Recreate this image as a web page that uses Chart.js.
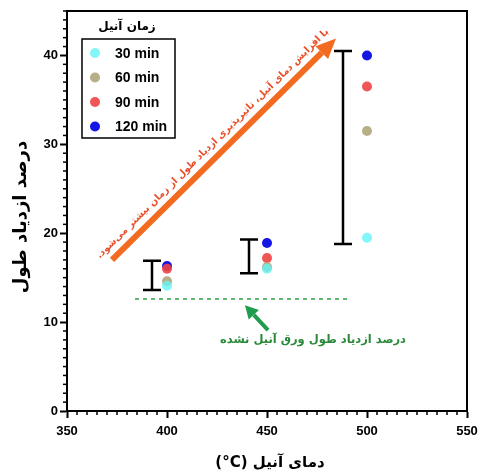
<!DOCTYPE html>
<html>
<head>
<meta charset="utf-8">
<script src="https://cdn.jsdelivr.net/npm/chart.js@4.4.1/dist/chart.umd.min.js"></script>
<style>
  html, body { margin: 0; padding: 0; background: #fff; }
  #wrap { width: 478px; height: 475px; }
</style>
</head>
<body>
<div id="wrap"><canvas id="chart" width="478" height="475"></canvas></div>
<script>
// datos
const temps = [400, 450, 500];
const timeLabels = ["30 min", "60 min", "90 min", "120 min"];
const t30 = [14.1, 16.0, 19.5];
const t60 = [14.6, 16.2, 31.5];
const t90 = [16.0, 17.2, 36.5];
const t120 = [16.3, 18.9, 40.0];
const errX = [392.5, 441, 488];
const errLow = [13.6, 15.5, 18.8];
const errHigh = [16.9, 19.3, 40.5];
const baseX = [384, 492];
const baseY = [12.6, 12.6];
const xTicks = [350, 400, 450, 500, 550];
const yTicks = [0, 10, 20, 30, 40];

const colors = [
  "rgba(100, 245, 245, 0.8)",
  "rgba(176, 165, 122, 0.9)",
  "rgba(240, 68, 68, 0.9)",
  "rgba(8, 8, 228, 0.95)",
];
const series = [t30, t60, t90, t120];

const arabicFont = '"DejaVu Sans", sans-serif';
const latinFont = '"Liberation Sans", Arial, sans-serif';

// Plugin para marco, ticks menores, barras de error y anotaciones
const decorPlugin = {
  id: "decor",
  beforeDatasetsDraw(chart) {
    const { ctx, chartArea: a, scales: { x, y } } = chart;
    ctx.save();
    ctx.strokeStyle = "#000";
    ctx.lineWidth = 2;
    // marco superior y derecho
    ctx.beginPath();
    ctx.moveTo(a.left, a.top);
    ctx.lineTo(a.right, a.top);
    ctx.lineTo(a.right, a.bottom);
    ctx.stroke();

    // ticks menores
    ctx.lineWidth = 1.5;
    for (let v = 355; v < 550; v += 5) {
      if (v % 50 === 0) continue;
      const px = x.getPixelForValue(v);
      ctx.beginPath();
      ctx.moveTo(px, a.bottom);
      ctx.lineTo(px, a.bottom + 4);
      ctx.stroke();
    }
    for (let v = 1; v <= 45; v++) {
      if (v % 10 === 0) continue;
      const py = y.getPixelForValue(v);
      ctx.beginPath();
      ctx.moveTo(a.left, py);
      ctx.lineTo(a.left - 4, py);
      ctx.stroke();
    }

    // barras de error
    ctx.lineWidth = 2.5;
    errX.forEach((ex, i) => {
      const px = x.getPixelForValue(ex);
      const lo = y.getPixelForValue(errLow[i]);
      const hi = y.getPixelForValue(errHigh[i]);
      ctx.beginPath();
      ctx.moveTo(px, lo);
      ctx.lineTo(px, hi);
      ctx.moveTo(px - 9, lo);
      ctx.lineTo(px + 9, lo);
      ctx.moveTo(px - 9, hi);
      ctx.lineTo(px + 9, hi);
      ctx.stroke();
    });

    // flecha naranja
    const x1 = x.getPixelForValue(372.5), y1 = y.getPixelForValue(17.0);
    const x2 = x.getPixelForValue(484.5), y2 = y.getPixelForValue(41.9);
    drawArrow(ctx, x1, y1, x2, y2, "#f26b21", 6, 20, 9);

    // texto a lo largo de la flecha
    const ang = Math.atan2(y2 - y1, x2 - x1);
    const mx = (x1 + x2) / 2 + Math.sin(ang) * 10.5 - 4;
    const my = (y1 + y2) / 2 - Math.cos(ang) * 10.5 + 2;
    const msg = "با افزایش دمای آنیل، تاثیرپذیری ازدیاد طول از زمان بیشتر می‌شود.";
    ctx.translate(mx, my);
    ctx.rotate(ang);
    ctx.direction = "rtl";
    let fs = 12;
    ctx.font = "bold " + fs + "px " + arabicFont;
    const target = Math.hypot(x2 - x1, y2 - y1) + 8;
    fs = fs * target / ctx.measureText(msg).width;
    ctx.font = "bold " + fs.toFixed(1) + "px " + arabicFont;
    ctx.fillStyle = "#e8502a";
    ctx.textAlign = "center";
    ctx.textBaseline = "middle";
    ctx.fillText(msg, 0, 0);
    ctx.restore();

    // flecha verde
    ctx.save();
    drawArrow(ctx, x.getPixelForValue(450.5), y.getPixelForValue(9.1),
      x.getPixelForValue(439), y.getPixelForValue(11.9), "#1f9d4e", 4, 13, 7);
    ctx.direction = "rtl";
    ctx.font = "bold 11.5px " + arabicFont;
    ctx.fillStyle = "#2a8a3a";
    ctx.textAlign = "center";
    ctx.textBaseline = "middle";
    ctx.fillText("درصد ازدیاد طول ورق آنیل نشده", x.getPixelForValue(473), y.getPixelForValue(8.0));
    ctx.restore();
  },
  afterDraw(chart) {
    const { ctx, chartArea: a } = chart;
    ctx.save();
    // títulos de los ejes
    ctx.fillStyle = "#000";
    ctx.textAlign = "center";
    ctx.textBaseline = "middle";
    ctx.direction = "ltr";
    ctx.font = "bold 15px " + arabicFont;
    ctx.fillText("(°C) دمای آنیل", (a.left + a.right) / 2 + 3, 463);
    ctx.direction = "rtl";
    ctx.save();
    ctx.translate(21, (a.top + a.bottom) / 2 + 6);
    ctx.rotate(-Math.PI / 2);
    ctx.font = "bold 18px " + arabicFont;
    ctx.fillText("درصد ازدیاد طول", 0, 0);
    ctx.restore();

    // leyenda
    const lx = a.left + 15, ly = a.top + 28;
    ctx.font = "bold 12px " + arabicFont;
    ctx.fillText("زمان آنیل", lx + 45, a.top + 16);
    ctx.direction = "ltr";
    ctx.strokeStyle = "#000";
    ctx.lineWidth = 1.5;
    ctx.strokeRect(lx, ly, 93, 99);
    ctx.font = "bold 14px " + latinFont;
    ctx.textAlign = "left";
    timeLabels.forEach((lab, i) => {
      const cy = ly + 14 + i * 24.5;
      ctx.fillStyle = colors[i];
      ctx.beginPath();
      ctx.arc(lx + 13, cy, 5, 0, Math.PI * 2);
      ctx.fill();
      ctx.fillStyle = "#000";
      ctx.fillText(lab, lx + 33, cy + 1);
    });
    ctx.restore();
  },
};

function drawArrow(ctx, x1, y1, x2, y2, color, width, headLen, headHalf) {
  const ang = Math.atan2(y2 - y1, x2 - x1);
  const bx = x2 - Math.cos(ang) * headLen;
  const by = y2 - Math.sin(ang) * headLen;
  ctx.save();
  ctx.strokeStyle = color;
  ctx.fillStyle = color;
  ctx.lineWidth = width;
  ctx.beginPath();
  ctx.moveTo(x1, y1);
  ctx.lineTo(bx, by);
  ctx.stroke();
  ctx.beginPath();
  ctx.moveTo(x2, y2);
  ctx.lineTo(bx - Math.sin(ang) * headHalf, by + Math.cos(ang) * headHalf);
  ctx.lineTo(bx + Math.sin(ang) * headHalf, by - Math.cos(ang) * headHalf);
  ctx.closePath();
  ctx.fill();
  ctx.restore();
}

const datasets = series.map((vals, i) => ({
  type: "scatter",
  label: timeLabels[i],
  data: temps.map((t, j) => ({ x: t, y: vals[j] })),
  backgroundColor: colors[i],
  borderWidth: 0,
  pointRadius: 5,
}));

datasets.push({
  type: "line",
  label: "base",
  data: baseX.map((bx, j) => ({ x: bx, y: baseY[j] })),
  borderColor: "#2ea043",
  borderWidth: 1.5,
  borderDash: [4, 4],
  pointRadius: 0,
  fill: false,
});

new Chart(document.getElementById("chart"), {
  type: "scatter",
  data: { datasets },
  options: {
    responsive: false,
    animation: false,
    layout: { padding: { top: 11, right: 11, left: 0, bottom: 0 } },
    plugins: { legend: { display: false }, tooltip: { enabled: false } },
    scales: {
      x: {
        type: "linear",
        min: 350,
        max: 550,
        afterBuildTicks: (s) => { s.ticks = xTicks.map(v => ({ value: v })); },
        afterFit: (s) => { s.height = 64; s.paddingLeft = 0; s.paddingRight = 0; },
        ticks: { color: "#000", font: { family: latinFont, size: 13, weight: "bold" }, padding: 6 },
        grid: { drawOnChartArea: false, tickLength: 7, tickWidth: 2, color: "#000" },
        border: { color: "#000", width: 2 },
      },
      y: {
        min: 0,
        max: 45,
        afterBuildTicks: (s) => { s.ticks = yTicks.map(v => ({ value: v })); },
        afterFit: (s) => { s.width = 67; s.paddingTop = 0; s.paddingBottom = 0; },
        ticks: { color: "#000", font: { family: latinFont, size: 13, weight: "bold" }, padding: 2 },
        grid: { drawOnChartArea: false, tickLength: 7, tickWidth: 2, color: "#000" },
        border: { color: "#000", width: 2 },
      },
    },
  },
  plugins: [decorPlugin],
});
</script>
</body>
</html>
